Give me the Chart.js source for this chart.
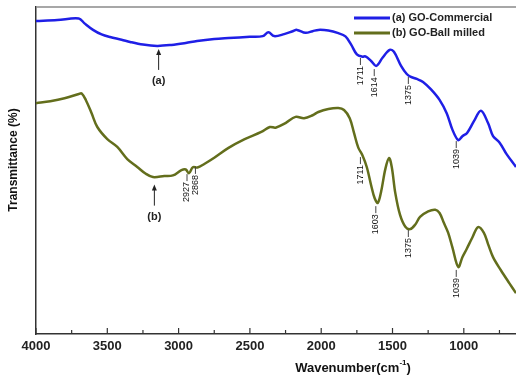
<!DOCTYPE html>
<html>
<head>
<meta charset="utf-8">
<script src="https://cdn.jsdelivr.net/npm/chart.js@4"></script>
<style>
  html, body { margin: 0; padding: 0; background: #fff; }
  #wrap { width: 516px; height: 379px; }
</style>
</head>
<body>
<div id="wrap"><canvas id="chart" width="516" height="379"></canvas></div>
<script>
/* DATA */
const seriesNames = ["(a) GO-Commercial", "(b) GO-Ball milled"];
const xTicks = [4000, 3500, 3000, 2500, 2000, 1500, 1000];

const wnA = [4000, 3850, 3700, 3660, 3600, 3540, 3480, 3400, 3340, 3250, 3150, 3050, 2950, 2870, 2750, 2650, 2500, 2410, 2370, 2330, 2260, 2200, 2170, 2110, 2060, 2020, 1950, 1880, 1830, 1790, 1750, 1711, 1690, 1650, 1614, 1570, 1520, 1490, 1440, 1400, 1375, 1330, 1286, 1230, 1170, 1120, 1080, 1039, 1010, 977, 930, 880, 830, 795, 750, 700, 634];
const tA  = [95.7, 96.0, 96.5, 95.0, 93.0, 91.6, 90.8, 90.0, 89.3, 88.5, 88.1, 88.4, 89.0, 89.6, 90.2, 90.5, 90.9, 91.1, 92.3, 91.1, 91.7, 92.6, 93.0, 92.1, 92.6, 93.0, 92.8, 92.0, 91.0, 88.5, 85.5, 84.8, 84.9, 83.5, 82.0, 84.5, 86.9, 86.3, 82.0, 79.5, 78.7, 78.0, 77.1, 74.8, 71.6, 67.5, 62.5, 59.3, 60.5, 61.5, 65.0, 68.3, 64.5, 60.5, 58.6, 55.0, 51.1];

const wnB = [4000, 3900, 3800, 3700, 3680, 3650, 3610, 3570, 3500, 3430, 3360, 3290, 3230, 3180, 3100, 3040, 2980, 2950, 2927, 2900, 2868, 2820, 2750, 2650, 2540, 2420, 2360, 2320, 2250, 2180, 2120, 2060, 2020, 1950, 1880, 1840, 1800, 1770, 1740, 1711, 1680, 1650, 1625, 1603, 1580, 1550, 1524, 1505, 1480, 1447, 1410, 1375, 1340, 1307, 1250, 1200, 1170, 1140, 1110, 1080, 1039, 1010, 980, 940, 900, 860, 830, 795, 740, 680, 634];
const tB  = [70.6, 71.2, 72.1, 73.4, 73.6, 71.5, 67.5, 63.3, 59.6, 57.2, 53.5, 51.1, 49.0, 48.0, 48.3, 48.5, 50.1, 50.3, 49.2, 51.0, 50.9, 52.0, 53.9, 56.9, 59.5, 61.8, 63.3, 63.1, 64.5, 66.4, 66.0, 66.9, 67.9, 68.8, 69.1, 68.5, 66.0, 61.5, 57.0, 54.7, 51.0, 45.5, 41.5, 40.1, 43.5, 50.5, 53.8, 51.0, 43.0, 36.4, 32.8, 32.1, 33.5, 35.8, 37.5, 38.0, 37.0, 34.0, 31.0, 26.5, 20.5, 23.5, 26.0, 29.5, 32.7, 31.0, 27.5, 23.5, 19.5, 15.5, 12.5];

// peak labels: wavenumber, transmittance where the leader line starts
const peaksA = [1711, 1614, 1375, 1039];
const peakTopA = [84.4, 81.0, 78.6, 59.0];
const peaksB = [2927, 2868, 1711, 1603, 1375, 1039];
const peakTopB = [48.9, 51.1, 54.1, 39.1, 31.8, 19.6];

/* COLORS */
const blue = "#1f1fe6";
const olive = "#636e1c";

function pts(xs, ys) {
  return xs.map((x, i) => ({ x: x, y: ys[i] }));
}

/* DRAWING EXTRAS: inward ticks, titles, legend, peak labels */
const extras = {
  id: "extras",
  afterDraw(c) {
    const ctx = c.ctx;
    const xs = c.scales.x;
    const ys = c.scales.y;
    const a = c.chartArea;
    ctx.save();

    // top frame line
    ctx.strokeStyle = "#8a8a8a";
    ctx.lineWidth = 1.5;
    ctx.beginPath();
    ctx.moveTo(a.left, a.top);
    ctx.lineTo(a.right, a.top);
    ctx.stroke();

    // inward ticks
    ctx.strokeStyle = "#333";
    ctx.lineWidth = 1.2;
    for (let v = 4000; v >= 634; v -= 250) {
      const px = xs.getPixelForValue(v);
      const len = v % 500 === 0 ? 6 : 4;
      ctx.beginPath();
      ctx.moveTo(px, a.bottom);
      ctx.lineTo(px, a.bottom - len);
      ctx.stroke();
    }

    ctx.fillStyle = "#111";
    // x title with superscript
    ctx.textBaseline = "middle";
    const main = "Wavenumber(cm";
    const sup = "-1";
    ctx.font = "bold 13px 'Liberation Sans', Arial, sans-serif";
    const w1 = ctx.measureText(main).width;
    ctx.font = "bold 8px 'Liberation Sans', Arial, sans-serif";
    const w2 = ctx.measureText(sup).width;
    ctx.font = "bold 13px 'Liberation Sans', Arial, sans-serif";
    const w3 = ctx.measureText(")").width;
    let tx = 353 - (w1 + w2 + w3) / 2;
    ctx.textAlign = "left";
    ctx.fillText(main, tx, 368);
    ctx.font = "bold 8px 'Liberation Sans', Arial, sans-serif";
    ctx.fillText(sup, tx + w1, 363);
    ctx.font = "bold 13px 'Liberation Sans', Arial, sans-serif";
    ctx.fillText(")", tx + w1 + w2, 368);

    // y title
    ctx.save();
    ctx.translate(14, 160);
    ctx.rotate(-Math.PI / 2);
    ctx.textAlign = "center";
    ctx.font = "bold 12px 'Liberation Sans', Arial, sans-serif";
    ctx.fillText("Transmittance (%)", 0, 0);
    ctx.restore();

    // legend
    c.data.datasets.forEach((ds, i) => {
      const y = 18 + i * 15;
      ctx.strokeStyle = ds.borderColor;
      ctx.lineWidth = 3;
      ctx.beginPath();
      ctx.moveTo(354, y);
      ctx.lineTo(390, y);
      ctx.stroke();
      ctx.fillStyle = "#222";
      ctx.font = "bold 11px 'Liberation Sans', Arial, sans-serif";
      ctx.textAlign = "left";
      ctx.fillText(ds.label, 392, y);
    });

    // (a) and (b) arrows
    const arrows = [[3140, 88.1, "(a)"], [3170, 46.6, "(b)"]];
    arrows.forEach(r => {
      const px = xs.getPixelForValue(r[0]);
      const py = ys.getPixelForValue(r[1]) + 3;
      ctx.strokeStyle = "#222";
      ctx.fillStyle = "#222";
      ctx.lineWidth = 1;
      ctx.beginPath();
      ctx.moveTo(px, py + 4);
      ctx.lineTo(px, py + 21);
      ctx.stroke();
      ctx.beginPath();
      ctx.moveTo(px, py);
      ctx.lineTo(px - 2.5, py + 6);
      ctx.lineTo(px + 2.5, py + 6);
      ctx.closePath();
      ctx.fill();
      ctx.font = "bold 11px 'Liberation Sans', Arial, sans-serif";
      ctx.textAlign = "center";
      ctx.fillText(r[2], px, py + 32);
    });

    // peak labels
    function peakLabels(wns, tops) {
      wns.forEach((wn, i) => {
        const px = xs.getPixelForValue(wn) - 2;
        const py = ys.getPixelForValue(tops[i]);
        ctx.strokeStyle = "#444";
        ctx.lineWidth = 1;
        ctx.beginPath();
        ctx.moveTo(px, py);
        ctx.lineTo(px, py + 7);
        ctx.stroke();
        ctx.save();
        ctx.translate(px, py + 8);
        ctx.rotate(-Math.PI / 2);
        ctx.fillStyle = "#111";
        ctx.font = "9px 'Liberation Sans', Arial, sans-serif";
        ctx.textAlign = "right";
        ctx.textBaseline = "middle";
        ctx.fillText(String(wn), 0, 0);
        ctx.restore();
      });
    }
    peakLabels(peaksA, peakTopA);
    peakLabels(peaksB, peakTopB);

    ctx.restore();
  }
};

const ctx = document.getElementById("chart").getContext("2d");
const chart = new Chart(ctx, {
  type: "line",
  data: {
    datasets: [
      { label: seriesNames[0], data: pts(wnA, tA), borderColor: blue, borderWidth: 2.5, pointRadius: 0, tension: 0.35 },
      { label: seriesNames[1], data: pts(wnB, tB), borderColor: olive, borderWidth: 2.5, pointRadius: 0, tension: 0.35 }
    ]
  },
  options: {
    responsive: false,
    animation: false,
    layout: { padding: { top: 7, right: 0, left: 0, bottom: 0 } },
    plugins: { legend: { display: false }, tooltip: { enabled: false } },
    scales: {
      x: {
        type: "linear",
        reverse: true,
        min: 634,
        max: 4000,
        afterFit(s) { s.height = 45; },
        afterBuildTicks(s) { s.ticks = xTicks.map(v => ({ value: v })); },
        ticks: {
          includeBounds: false,
          padding: 5,
          color: "#222",
          font: { family: "'Liberation Sans', Arial, sans-serif", size: 13, weight: "bold" },
          maxRotation: 0,
          callback: v => String(v)
        },
        grid: { display: false, drawTicks: false },
        border: { display: true, color: "#333", width: 1.5 }
      },
      y: {
        min: 0,
        max: 100,
        afterFit(s) { s.width = 36; },
        ticks: { display: false },
        grid: { display: false, drawTicks: false },
        border: { display: true, color: "#333", width: 1.5 }
      }
    }
  },
  plugins: [extras]
});
</script>
</body>
</html>
